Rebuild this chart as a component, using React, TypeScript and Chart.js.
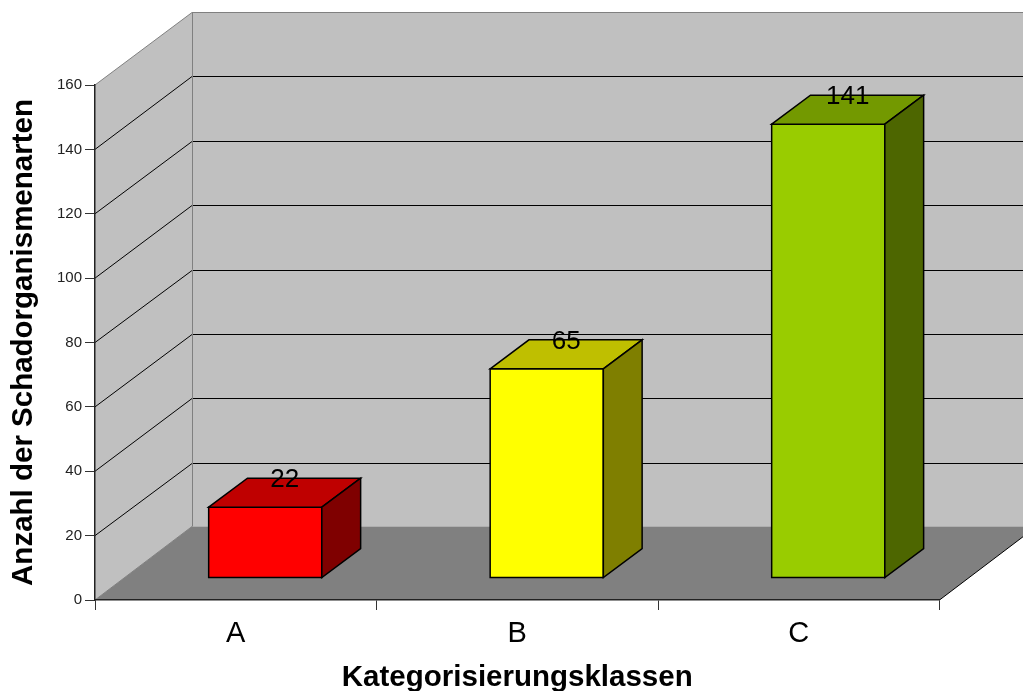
import { useEffect, useRef } from "react";
import { Chart, registerables } from "chart.js";

Chart.register(...registerables);

// Damage-organism counts per classification class
const categories = ["A", "B", "C"];
const counts = [22, 65, 141];
const frontColors = ["#ff0000", "#ffff00", "#99cc00"];
const topColors = ["#bf0000", "#bfbf00", "#739900"];
const sideColors = ["#7f0000", "#7f7f00", "#4d6600"];
const axisMax = 160;
const axisStep = 20;
const yTitle = "Anzahl der Schadorganismenarten";
const xTitle = "Kategorisierungsklassen";

// Oblique projection of the box: how far the back wall sits from the front plane
const WALL_DX = 97;
const WALL_DY = 72.5;
const FLOOR_DY = 73.5;
const BAR_SHIFT_X = 29.5; // front faces stand this far in from the front plane
const BAR_SHIFT_Y = 22;
const BAR_DEPTH = 0.4; // share of the depth taken up by each bar
const OUTLINE = 1.5;
const FONT = '"Liberation Sans", Arial, sans-serif';

function polygon(ctx: CanvasRenderingContext2D, pts: number[][], fill: string | null, stroke: string | null) {
  ctx.beginPath();
  pts.forEach(([x, y], i) => (i ? ctx.lineTo(x, y) : ctx.moveTo(x, y)));
  ctx.closePath();
  if (fill) {
    ctx.fillStyle = fill;
    ctx.fill();
  }
  if (stroke) {
    ctx.strokeStyle = stroke;
    ctx.lineWidth = OUTLINE;
    ctx.lineJoin = "miter";
    ctx.stroke();
  }
}

function segment(ctx: CanvasRenderingContext2D, x1: number, y1: number, x2: number, y2: number, color: string) {
  ctx.beginPath();
  ctx.moveTo(x1, y1);
  ctx.lineTo(x2, y2);
  ctx.strokeStyle = color;
  ctx.lineWidth = 1;
  ctx.stroke();
}

// Draws the side wall, back wall and floor behind the bars
const roomPlugin = {
  id: "room",
  beforeDraw(chart: any) {
    const { ctx, chartArea: a, scales } = chart;
    const y = scales.y;
    const top = y.getPixelForValue(axisMax);
    const zero = y.getPixelForValue(0);
    const backLeft = a.left + WALL_DX;
    const backRight = a.right + WALL_DX;
    ctx.save();
    polygon(ctx, [[backLeft, top - WALL_DY], [backRight, top - WALL_DY], [backRight, zero - FLOOR_DY], [backLeft, zero - FLOOR_DY]], "#c0c0c0", null);
    polygon(ctx, [[a.left, top], [backLeft, top - WALL_DY], [backLeft, zero - FLOOR_DY], [a.left, zero]], "#c0c0c0", null);
    polygon(ctx, [[a.left, zero], [a.right, zero], [backRight, zero - FLOOR_DY], [backLeft, zero - FLOOR_DY]], "#808080", null);
    y.ticks.forEach((t: any) => {
      if (t.value === 0 || t.value === axisMax) return;
      const py = y.getPixelForValue(t.value);
      const back = Math.floor(py - WALL_DY) + 0.5;
      segment(ctx, a.left, py, backLeft, back, "#000000");
      segment(ctx, backLeft, back, backRight, back, "#000000");
    });
    const backTop = Math.floor(top - WALL_DY) + 0.5;
    segment(ctx, a.left, top, backLeft, backTop, "#808080");
    segment(ctx, backLeft, backTop, backRight, backTop, "#808080");
    segment(ctx, backLeft + 0.5, backTop, backLeft + 0.5, zero - FLOOR_DY, "#808080");
    segment(ctx, a.left, zero, backLeft, zero - FLOOR_DY, "#808080");
    segment(ctx, a.right, zero, backRight, zero - FLOOR_DY, "#000000");
    ctx.restore();
  },
};

// Pushes the front faces back from the front plane, then adds outlines, top and side faces and value labels
const boxPlugin = {
  id: "box",
  beforeDatasetDraw(chart: any) {
    chart.ctx.save();
    chart.ctx.translate(BAR_SHIFT_X, -BAR_SHIFT_Y);
  },
  afterDatasetDraw(chart: any, args: any) {
    const { ctx } = chart;
    const dx = WALL_DX * BAR_DEPTH;
    const dy = WALL_DY * BAR_DEPTH;
    args.meta.data.forEach((bar: any, i: number) => {
      const l = bar.x - bar.width / 2;
      const r = bar.x + bar.width / 2;
      const t = bar.y;
      const b = bar.base;
      polygon(ctx, [[l, t], [r, t], [r, b], [l, b]], null, "#000000");
      polygon(ctx, [[l, t], [l + dx, t - dy], [r + dx, t - dy], [r, t]], topColors[i], "#000000");
      polygon(ctx, [[r, t], [r + dx, t - dy], [r + dx, b - dy], [r, b]], sideColors[i], "#000000");
      ctx.fillStyle = "#000000";
      ctx.font = `26px ${FONT}`;
      ctx.textAlign = "center";
      ctx.textBaseline = "middle";
      ctx.fillText(String(counts[i]), bar.x + dx / 2, t - dy + 2);
    });
    ctx.restore();
  },
};

export default function App() {
  const ref = useRef<HTMLCanvasElement>(null);

  useEffect(() => {
    document.body.style.margin = "0";
    const chart = new Chart(ref.current!, {
      type: "bar",
      data: {
        labels: categories,
        datasets: [
          {
            data: counts,
            backgroundColor: frontColors,
            borderWidth: 0,
            barPercentage: 0.402,
            categoryPercentage: 1,
            clip: false,
          } as any,
        ],
      },
      options: {
        responsive: false,
        animation: false,
        layout: { padding: { left: 0, right: 83.5, top: 85, bottom: 0 } },
        plugins: { legend: { display: false }, tooltip: { enabled: false } },
        scales: {
          x: {
            afterFit(s: any) {
              s.height = 91;
            },
            grid: { drawOnChartArea: false, drawTicks: true, tickLength: 10, tickColor: "#333333", offset: true },
            border: { display: true, color: "#222222", width: 1.5 },
            ticks: { color: "#000000", font: { family: FONT, size: 29 }, padding: 7, maxRotation: 0 },
            title: {
              display: true,
              text: xTitle,
              color: "#000000",
              font: { family: FONT, size: 29.5, weight: "bold", lineHeight: 0.88 },
              padding: { top: 0, bottom: 0 },
            },
          },
          y: {
            min: 0,
            max: axisMax,
            afterFit(s: any) {
              s.width = 95;
            },
            grid: { drawOnChartArea: false, drawTicks: true, tickLength: 10, tickColor: "#333333" },
            border: { display: true, color: "#222222", width: 1.5 },
            ticks: { stepSize: axisStep, color: "#222222", font: { family: FONT, size: 15 }, padding: 3 },
            title: {
              display: true,
              text: yTitle,
              color: "#000000",
              font: { family: FONT, size: 29.5, weight: "bold", lineHeight: 0.95 },
              padding: { top: 10, bottom: 0 },
            },
          },
        },
      },
      plugins: [roomPlugin, boxPlugin],
    } as any);
    return () => chart.destroy();
  }, []);

  return <canvas ref={ref} width={1023} height={691} style={{ display: "block" }} />;
}
